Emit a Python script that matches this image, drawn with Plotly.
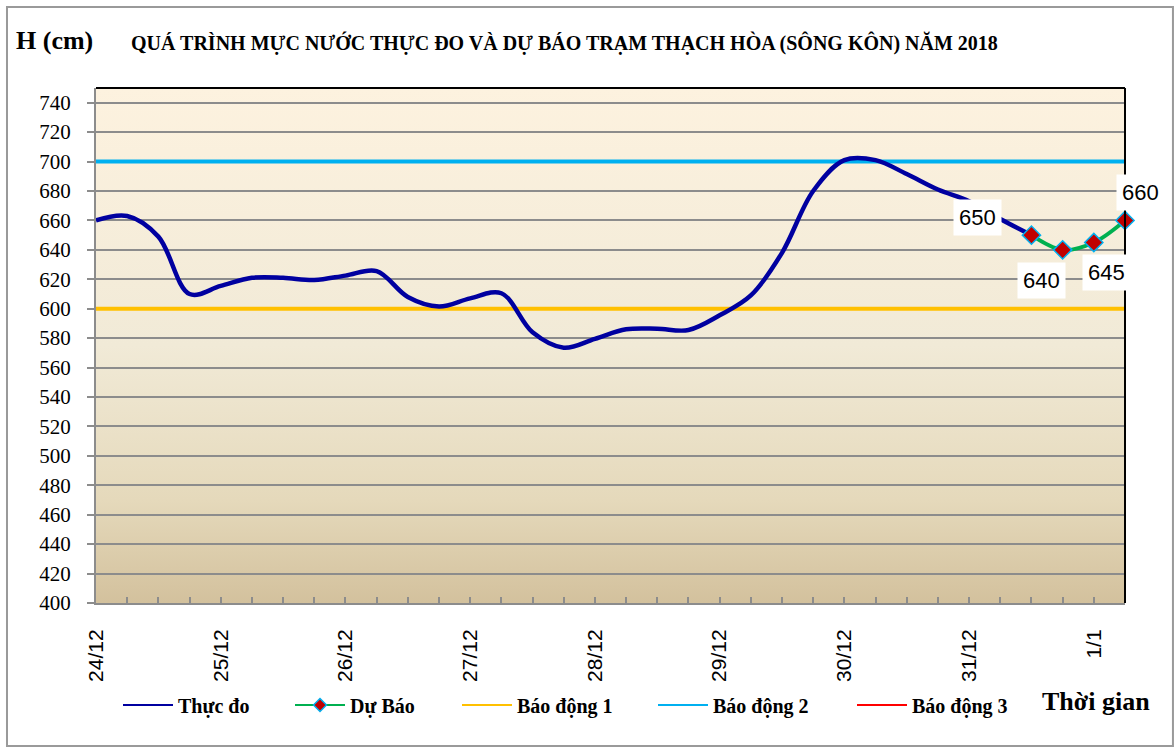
import plotly.graph_objects as go
import base64

# ---------------- data ----------------
day_labels = ["24/12", "25/12", "26/12", "27/12", "28/12", "29/12", "30/12", "31/12", "1/1"]
steps_per_day = 4  # observations every 6 hours

observed = [660, 663, 649, 610, 615.5, 621, 621, 619.5, 622.5, 625.5, 608, 601.5,
            607, 610.5, 584, 573.5, 579.5, 586, 586.4, 585.5, 595.5, 609, 638, 680,
            701, 701, 691.5, 681, 673, 661, 650]
forecast = [650, 640, 645, 660]
forecast_start = 30

alarm1 = 600
alarm2 = 700
alarm3 = 800

n_steps = forecast_start + len(forecast)
x_obs = list(range(len(observed)))
x_fc = list(range(forecast_start, n_steps))
x_all = list(range(n_steps))
tickvals = [i * steps_per_day for i in range(len(day_labels))]

# ---------------- styles ----------------
SERIF = "Liberation Serif"
SANS = "Liberation Sans"
C_OBS, C_FC, C_A1, C_A2, C_A3 = "#0000A0", "#00B050", "#FFC000", "#00B0F0", "#FF0000"

fig = go.Figure()

fig.add_trace(go.Scatter(x=x_all, y=[alarm1] * n_steps, mode="lines", showlegend=False,
                         line=dict(color=C_A1, width=4)))
fig.add_trace(go.Scatter(x=x_all, y=[alarm2] * n_steps, mode="lines", showlegend=False,
                         line=dict(color=C_A2, width=4)))
fig.add_trace(go.Scatter(x=x_all, y=[alarm3] * n_steps, mode="lines", showlegend=False,
                         line=dict(color=C_A3, width=3)))
fig.add_trace(go.Scatter(x=x_obs, y=observed, mode="lines", showlegend=False,
                         line=dict(color=C_OBS, width=4.5, shape="spline", smoothing=1)))
fig.add_trace(go.Scatter(x=x_fc, y=forecast, mode="lines+markers", showlegend=False,
                         line=dict(color=C_FC, width=4, shape="spline", smoothing=1),
                         marker=dict(symbol="diamond", size=14, color="#C00000",
                                     line=dict(color=C_A2, width=1.5)),
                         cliponaxis=False))

# legend entries (thin samples, as in the reference legend)
legend_items = [("Thực đo", C_OBS, "legend", False),
                ("Dự Báo", C_FC, "legend2", True),
                ("Báo động 1", C_A1, "legend3", False),
                ("Báo động 2", C_A2, "legend4", False),
                ("Báo động 3", C_A3, "legend5", False)]
for name, col, lg, has_marker in legend_items:
    fig.add_trace(go.Scatter(x=[None], y=[None], name=name, legend=lg,
                             mode="lines+markers" if has_marker else "lines",
                             line=dict(color=col, width=2),
                             marker=dict(symbol="diamond", size=10, color="#C00000",
                                         line=dict(color=C_A2, width=1.5))))

# data labels for forecast
offsets = [(-54, -18), (-21, 31), (13, 30), (15, -28)]
for xv, yv, (ax, ay) in zip(x_fc, forecast, offsets):
    fig.add_annotation(x=xv, y=yv, text=str(yv), showarrow=True, ax=ax, ay=ay,
                       arrowcolor="rgba(0,0,0,0)", arrowwidth=0.1, arrowhead=0,
                       bgcolor="white", borderpad=5,
                       font=dict(family=SANS, size=22, color="black"))

# background gradient via SVG
svg = ('<svg xmlns="http://www.w3.org/2000/svg" width="100" height="100" preserveAspectRatio="none">'
       '<defs><linearGradient id="g" x1="0" y1="0" x2="0" y2="1">'
       '<stop offset="0" stop-color="#FDF2DF"/>'
       '<stop offset="0.5" stop-color="#F1EAD7"/>'
       '<stop offset="0.8" stop-color="#E5D9BB"/>'
       '<stop offset="1" stop-color="#D3C19D"/>'
       '</linearGradient></defs><rect width="100" height="100" fill="url(#g)"/></svg>')
src = "data:image/svg+xml;base64," + base64.b64encode(svg.encode()).decode()
fig.add_layout_image(source=src, xref="paper", yref="paper", x=0, y=1, sizex=1, sizey=1,
                     xanchor="left", yanchor="top", sizing="stretch", layer="below")

# plot frame: top and right black
fig.add_shape(type="line", xref="paper", yref="paper", x0=0, x1=1, y0=1, y1=1,
              line=dict(color="black", width=2))
fig.add_shape(type="line", xref="paper", yref="paper", x0=1, x1=1, y0=0, y1=1,
              line=dict(color="black", width=2))
# outer chart border
fig.add_shape(type="rect", xref="paper", yref="paper", x0=-0.0865, x1=1.0466,
              y0=-0.2777, y1=1.1573, line=dict(color="#9A9A9A", width=2), layer="below")

# titles
fig.add_annotation(xref="paper", yref="paper", x=-0.0795, y=1.0913, xanchor="left", yanchor="middle",
                   text="<b>H (cm)</b>", showarrow=False, font=dict(family=SERIF, size=26, color="black"))
fig.add_annotation(xref="paper", yref="paper", x=0.0320, y=1.0874, xanchor="left", yanchor="middle",
                   text="<b>QUÁ TRÌNH MỰC NƯỚC THỰC ĐO VÀ DỰ BÁO TRẠM THẠCH HÒA (SÔNG KÔN) NĂM 2018</b>",
                   showarrow=False, font=dict(family=SERIF, size=20, color="black"))
fig.add_annotation(xref="paper", yref="paper", x=0.9174, y=-0.1905, xanchor="left", yanchor="middle",
                   text="<b>Thời gian</b>", showarrow=False, font=dict(family=SERIF, size=26, color="black"))

legend_font = dict(family=SERIF, size=20, color="black", weight="bold")
def leg(xpx):
    return dict(x=(xpx - 96) / 1029, y=-0.198, xanchor="left", yanchor="middle",
                bgcolor="rgba(0,0,0,0)", font=legend_font, itemwidth=50, orientation="h")

fig.update_layout(
    width=1176, height=749,
    margin=dict(l=96, r=51, t=88, b=146),
    paper_bgcolor="white",
    plot_bgcolor="rgba(0,0,0,0)",
    showlegend=True,
    legend=leg(118), legend2=leg(290), legend3=leg(457), legend4=leg(653), legend5=leg(852),
    xaxis=dict(range=[0, n_steps - 1], tickmode="array", tickvals=tickvals, ticktext=day_labels,
               tickangle=-90, ticks="inside", ticklen=6, tickcolor="#8C8C8C", tickwidth=1.5,
               minor=dict(dtick=1, ticks="inside", ticklen=6, tickcolor="#8C8C8C", tickwidth=1.5,
                          showgrid=False),
               showgrid=False, zeroline=False, showline=True, linecolor="#8C8C8C", linewidth=2,
               tickfont=dict(family=SANS, size=21, color="black"), ticklabelstandoff=16),
    yaxis=dict(range=[400, 750], tick0=400, dtick=20, ticks="outside", ticklen=7,
               tickcolor="#8C8C8C", tickwidth=1.5,
               showgrid=True, gridcolor="#8C8C8C", gridwidth=1.5, zeroline=False,
               showline=True, linecolor="#8C8C8C", linewidth=2,
               tickfont=dict(family=SERIF, size=21, color="black"), ticklabelstandoff=12),
)

fig.write_html("out.html", config={"displayModeBar": False},
               post_script="document.body.style.margin='0';")
